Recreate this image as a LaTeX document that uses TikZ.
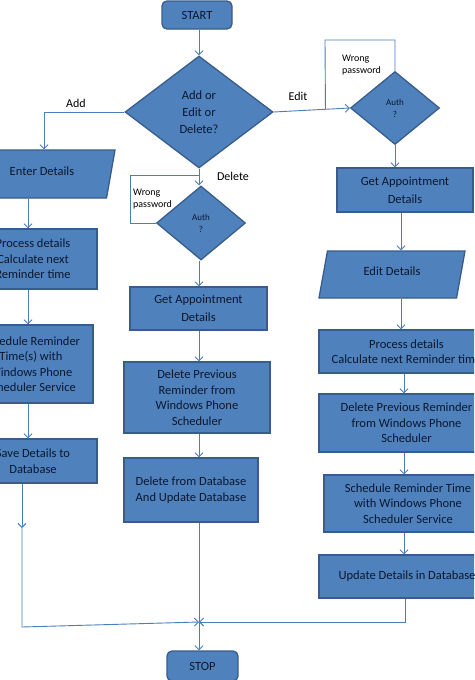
\documentclass[tikz,border=0pt]{standalone}
\usepackage{fontspec}
\setmainfont{Carlito}
\usetikzlibrary{shapes.geometric,arrows.meta,calc}
\definecolor{boxfill}{HTML}{4F81BD}
\definecolor{boxline}{HTML}{385D8A}
\definecolor{boxtext}{HTML}{0B1830}
\definecolor{conncol}{HTML}{4A7EBB}
\begin{document}
\begin{tikzpicture}[x=1pt,y=-1pt,
  every node/.style={font=\fontsize{12.5}{15.5}\selectfont},
  shapebox/.style={draw=boxline, fill=boxfill, line width=1.3pt, text=boxtext, align=center, inner sep=0pt, rectangle},
  decision/.style={shapebox, diamond},
  iobox/.style={shapebox, trapezium, trapezium left angle=60, trapezium right angle=120, trapezium stretches body},
  term/.style={shapebox, rounded corners=5pt},
  conn/.style={draw=conncol, line width=0.9pt},
  arr/.style={conn, -{Straight Barb[length=4pt,width=8pt]}},
  lbl/.style={text=black, inner sep=0pt, font=\fontsize{12}{14}\selectfont},
  small/.style={text=black, inner sep=0pt, align=left, font=\fontsize{10}{12}\selectfont}]
\useasboundingbox (0,0) rectangle (474,680);
\fill[white] (0,0) rectangle (474,680);
\clip (0,0) rectangle (474,680);

% nodes
\node[term, minimum width=70pt, minimum height=28pt] (start) at (197,15) {START};
\node[decision, minimum width=148pt, minimum height=112pt] (main) at (199,112) {Add or\\[1.5pt]Edit or\\[1.5pt]Delete?};

\node[iobox, minimum width=146pt, minimum height=48pt] (enter) at (42,174) {\raisebox{6pt}{Enter Details}};
\node[shapebox, minimum width=128pt, minimum height=60pt] (proc) at (33,259) {Process details\\Calculate next\\Reminder time};
\node[shapebox, minimum width=124pt, minimum height=78pt] (sched) at (31,364) {Schedule Reminder\\Time(s) with\\Windows Phone\\Scheduler Service};
\node[shapebox, minimum width=128pt, minimum height=44pt] (save) at (33,461) {Save Details to\\Database};

\node[decision, minimum width=89pt, minimum height=74pt, font=\fontsize{9}{12}\selectfont] (authM) at (201,223) {Auth\\?};
\node[shapebox, minimum width=137pt, minimum height=43pt] (getM) at (198.5,308.5) {Get Appointment\\[2.5pt]Details};
\node[shapebox, minimum width=146pt, minimum height=71pt] (delPrevM) at (197,397.5) {Delete Previous\\Reminder from\\Windows Phone\\Scheduler};
\node[shapebox, minimum width=134pt, minimum height=64pt] (delDB) at (191,490) {Delete from Database\\And Update Database};

\node[decision, minimum width=89pt, minimum height=73pt, font=\fontsize{9}{12}\selectfont] (authR) at (395,108) {Auth\\?};
\node[shapebox, minimum width=136pt, minimum height=44pt] (getR) at (405,190) {Get Appointment\\[2.5pt]Details};
\node[iobox, minimum width=146pt, minimum height=47pt] (editD) at (392,274.5) {\raisebox{6pt}{Edit Details}};
\node[shapebox, minimum width=175pt, minimum height=43pt] (procR) at (406.5,351.5) {Process details\\Calculate next Reminder time};
\node[shapebox, minimum width=175pt, minimum height=58pt] (delPrevR) at (406.5,423) {Delete Previous Reminder\\from Windows Phone\\Scheduler};
\node[shapebox, minimum width=168pt, minimum height=57pt] (schedR) at (408,503.5) {Schedule Reminder Time\\with Windows Phone\\Scheduler Service};
\node[shapebox, minimum width=176pt, minimum height=43pt] (update) at (407,576.5) {Update Details in Database};

\node[term, minimum width=71pt, minimum height=30pt] (stop) at (202.5,666) {STOP};

% labels
\node[lbl] (addL) at (76,103) {Add};
\node[lbl] (editL) at (298,96) {Edit};
\node[lbl] (delL) at (233,176) {Delete};
\node[small, anchor=west] (wrongM) at (133,199) {Wrong\\password};
\node[small, anchor=west] (wrongR) at (342,65) {Wrong\\password};

% helper coordinates
\coordinate (colL) at (28,0);
\coordinate (addX) at (44,0);
\coordinate (colM) at (199,0);
\coordinate (colR1) at (401,0);
\coordinate (colR2) at (404,0);
\coordinate (colR3) at (405,0);
\coordinate (saveX) at (22,0);
\coordinate (J) at (199,622);
\coordinate (midArrow) at (22,528);
\coordinate (leftCorner) at (22,627);
\coordinate (loopML) at (130,175);
\coordinate (loopRT) at (325,40);
\coordinate (rightJoin) at ($(main.east)!0.68!(authR.west)$);

% connectors
\draw[arr] (start.south -| colM) -- (main.north);
\draw[arr] (main.west) -| (enter.north -| addX);
\draw[arr] (enter.south -| colL) -- (proc.north -| colL);
\draw[arr] (proc.south -| colL) -- (sched.north -| colL);
\draw[arr] (sched.south -| colL) -- (save.north -| colL);
\draw[arr] (save.south -| saveX) -- (midArrow);
\draw[arr] (midArrow) -- (leftCorner) -- (J);

\draw[arr] (main.south) -- (main.south |- authM.north);
\draw[conn] (authM.west) -| (loopML) -- (loopML -| colM);
\draw[arr] (authM.south -| colM) -- (getM.north -| colM);
\draw[arr] (getM.south -| colM) -- (delPrevM.north -| colM);
\draw[arr] (delPrevM.south -| colM) -- (delDB.north -| colM);
\draw[arr] (delDB.south -| colM) -- (stop.north -| colM);

\draw[arr] (main.east) -- (authR.west);
\draw[conn] (authR.north) |- (loopRT) -- (rightJoin);
\draw[arr] (authR.south) -- (getR.north -| authR.south);
\draw[arr] (getR.south -| colR1) -- (editD.north -| colR1);
\draw[arr] (editD.south -| colR1) -- (procR.north -| colR1);
\draw[arr] (procR.south -| colR2) -- (delPrevR.north -| colR2);
\draw[arr] (delPrevR.south -| colR2) -- (schedR.north -| colR2);
\draw[arr] (schedR.south -| colR2) -- (update.north -| colR2);
\draw[arr] (update.south -| colR3) |- (J);
\end{tikzpicture}
\end{document}
